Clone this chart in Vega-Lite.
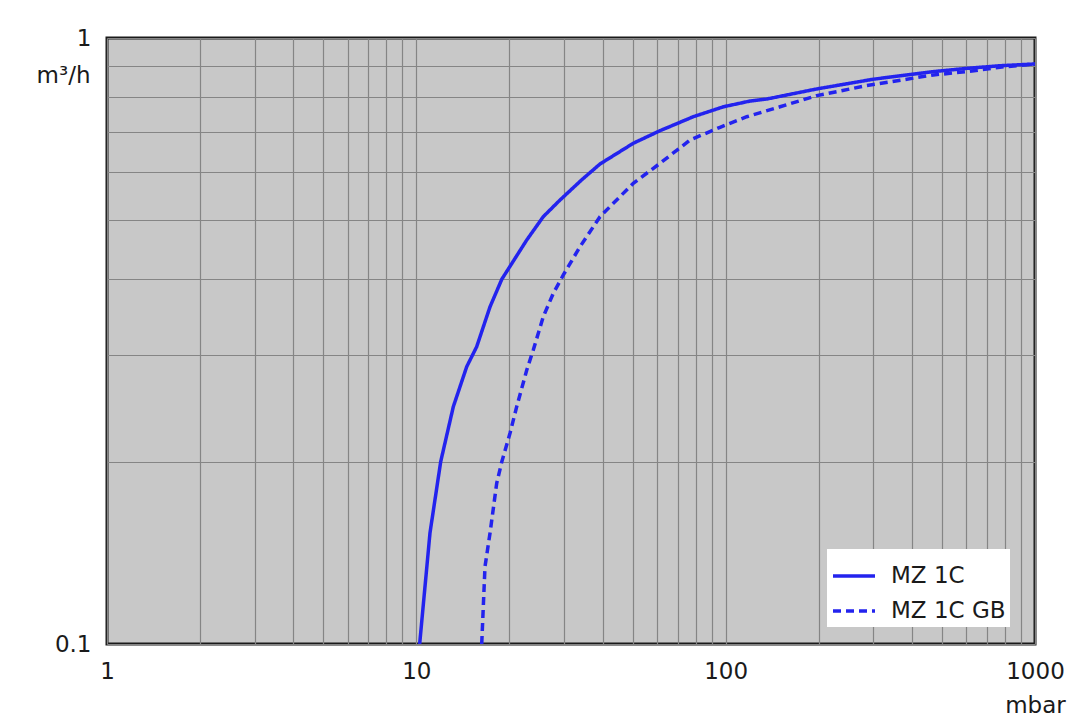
{
  "$schema": "https://vega.github.io/schema/vega-lite/v6.json",
  "width": 928,
  "height": 606,
  "autosize": "none",
  "padding": {"left": 107, "top": 38, "right": 45, "bottom": 77},
  "background": "#ffffff",
  "data": {
    "values": [
      {"p": 10.25, "s": 0.1, "pump": "MZ 1C"},
      {"p": 11.07, "s": 0.1525, "pump": "MZ 1C"},
      {"p": 11.99, "s": 0.2, "pump": "MZ 1C"},
      {"p": 13.17, "s": 0.2464, "pump": "MZ 1C"},
      {"p": 14.55, "s": 0.2868, "pump": "MZ 1C"},
      {"p": 15.67, "s": 0.3094, "pump": "MZ 1C"},
      {"p": 17.31, "s": 0.3602, "pump": "MZ 1C"},
      {"p": 18.9, "s": 0.4, "pump": "MZ 1C"},
      {"p": 22.75, "s": 0.4642, "pump": "MZ 1C"},
      {"p": 25.73, "s": 0.5072, "pump": "MZ 1C"},
      {"p": 29.14, "s": 0.5403, "pump": "MZ 1C"},
      {"p": 34.2, "s": 0.583, "pump": "MZ 1C"},
      {"p": 39.25, "s": 0.6196, "pump": "MZ 1C"},
      {"p": 50.27, "s": 0.6703, "pump": "MZ 1C"},
      {"p": 61.33, "s": 0.7031, "pump": "MZ 1C"},
      {"p": 78.6, "s": 0.7415, "pump": "MZ 1C"},
      {"p": 98.3, "s": 0.77, "pump": "MZ 1C"},
      {"p": 119.9, "s": 0.787, "pump": "MZ 1C"},
      {"p": 135.7, "s": 0.793, "pump": "MZ 1C"},
      {"p": 197, "s": 0.824, "pump": "MZ 1C"},
      {"p": 300, "s": 0.855, "pump": "MZ 1C"},
      {"p": 469, "s": 0.88, "pump": "MZ 1C"},
      {"p": 601, "s": 0.891, "pump": "MZ 1C"},
      {"p": 771, "s": 0.9, "pump": "MZ 1C"},
      {"p": 1000, "s": 0.906, "pump": "MZ 1C"},
      {"p": 16.27, "s": 0.1, "pump": "MZ 1C GB"},
      {"p": 16.67, "s": 0.1341, "pump": "MZ 1C GB"},
      {"p": 17.31, "s": 0.1525, "pump": "MZ 1C GB"},
      {"p": 18.19, "s": 0.1842, "pump": "MZ 1C GB"},
      {"p": 18.9, "s": 0.2, "pump": "MZ 1C GB"},
      {"p": 20.09, "s": 0.2229, "pump": "MZ 1C GB"},
      {"p": 21.11, "s": 0.2464, "pump": "MZ 1C GB"},
      {"p": 22.75, "s": 0.2832, "pump": "MZ 1C GB"},
      {"p": 23.88, "s": 0.3056, "pump": "MZ 1C GB"},
      {"p": 25.73, "s": 0.3469, "pump": "MZ 1C GB"},
      {"p": 27.72, "s": 0.379, "pump": "MZ 1C GB"},
      {"p": 29.87, "s": 0.4064, "pump": "MZ 1C GB"},
      {"p": 33.82, "s": 0.4525, "pump": "MZ 1C GB"},
      {"p": 39.25, "s": 0.5072, "pump": "MZ 1C GB"},
      {"p": 50.27, "s": 0.5758, "pump": "MZ 1C GB"},
      {"p": 61.33, "s": 0.6211, "pump": "MZ 1C GB"},
      {"p": 76.7, "s": 0.6787, "pump": "MZ 1C GB"},
      {"p": 95.9, "s": 0.7123, "pump": "MZ 1C GB"},
      {"p": 117, "s": 0.7415, "pump": "MZ 1C GB"},
      {"p": 149.9, "s": 0.77, "pump": "MZ 1C GB"},
      {"p": 197, "s": 0.8033, "pump": "MZ 1C GB"},
      {"p": 285.8, "s": 0.8346, "pump": "MZ 1C GB"},
      {"p": 469, "s": 0.869, "pump": "MZ 1C GB"},
      {"p": 601, "s": 0.88, "pump": "MZ 1C GB"},
      {"p": 771, "s": 0.895, "pump": "MZ 1C GB"},
      {"p": 1000, "s": 0.906, "pump": "MZ 1C GB"}
    ]
  },
  "mark": {"type": "line", "strokeWidth": 3.5, "clip": true},
  "encoding": {
    "x": {
      "field": "p",
      "type": "quantitative",
      "scale": {"type": "log", "domain": [1, 1000], "nice": false},
      "axis": {
        "values": [1, 2, 3, 4, 5, 6, 7, 8, 9, 10, 20, 30, 40, 50, 60, 70, 80, 90, 100, 200, 300, 400, 500, 600, 700, 800, 900, 1000],
        "labelExpr": "indexof([1, 10, 100, 1000], datum.value) >= 0 ? datum.value : ''",
        "labelPadding": 16,
        "title": "mbar",
        "titleX": 928,
        "titleY": 61,
        "titleAlign": "center",
        "titleBaseline": "middle"
      }
    },
    "y": {
      "field": "s",
      "type": "quantitative",
      "scale": {"type": "log", "domain": [0.1, 1], "nice": false},
      "axis": {
        "values": [0.1, 0.2, 0.3, 0.4, 0.5, 0.6, 0.7, 0.8, 0.9, 1],
        "labelExpr": "datum.value == 1 ? '1' : datum.value == 0.1 ? '0.1' : ''",
        "labelPadding": 16,
        "title": "m³/h",
        "titleAngle": 0,
        "titleX": -17,
        "titleY": 37,
        "titleAlign": "right",
        "titleBaseline": "middle"
      }
    },
    "strokeDash": {
      "field": "pump",
      "type": "nominal",
      "scale": {"domain": ["MZ 1C", "MZ 1C GB"], "range": [[1, 0], [8, 5]]},
      "legend": {
        "title": null,
        "orient": "none",
        "legendX": 720,
        "legendY": 511,
        "fillColor": "#ffffff",
        "padding": 4,
        "symbolType": "stroke",
        "symbolSize": 1764,
        "symbolStrokeWidth": 3.5,
        "symbolStrokeColor": "#2323ee",
        "labelFontSize": 23,
        "labelFont": "DejaVu Sans",
        "labelColor": "#1a1a1a",
        "labelOffset": 14,
        "rowPadding": 0
      }
    },
    "color": {"value": "#2323ee"}
  },
  "config": {
    "view": {"fill": "#c8c8c8", "stroke": "#1a1a1a", "strokeWidth": 3},
    "axis": {
      "grid": true,
      "gridColor": "#858585",
      "gridWidth": 1.2,
      "gridOpacity": 1,
      "domain": false,
      "ticks": false,
      "labelFont": "DejaVu Sans",
      "labelFontSize": 23,
      "labelColor": "#1a1a1a",
      "labelFlush": false,
      "labelOverlap": false,
      "titleFont": "DejaVu Sans",
      "titleFontSize": 23,
      "titleFontWeight": "normal",
      "titleColor": "#1a1a1a"
    }
  }
}
